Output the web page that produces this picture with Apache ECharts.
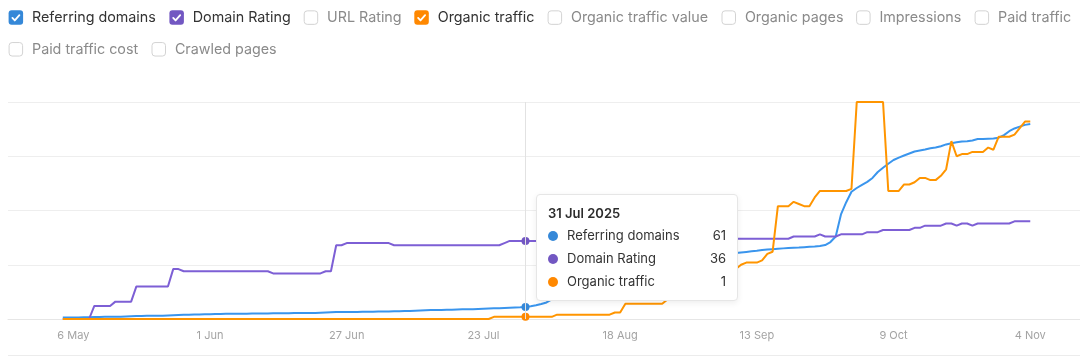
<!DOCTYPE html>
<html><head><meta charset="utf-8">
<script src="https://cdn.jsdelivr.net/npm/echarts@6/dist/echarts.min.js"></script>
<style>html,body{margin:0;padding:0;background:#fff;}#chart{width:1080px;height:357px;}</style>
</head><body><div id="chart"></div>
<script>
// ---- data ----
const MONTHS = ['Jan','Feb','Mar','Apr','May','Jun','Jul','Aug','Sep','Oct','Nov','Dec'];
const dayCount = 185; // 4 May 2025 .. 4 Nov 2025, daily
const categories = [];
const fullDates = [];
for (let i = 0; i < dayCount; i++) {
  const d = new Date(Date.UTC(2025, 4, 4 + i));
  const s = d.getUTCDate() + ' ' + MONTHS[d.getUTCMonth()];
  categories.push(s);
  fullDates.push(s + ' ' + d.getUTCFullYear());
}
const tickLabels = ['6 May','1 Jun','27 Jun','23 Jul','18 Aug','13 Sep','9 Oct','4 Nov'];
const hoverDate = '31 Jul';

const referringDomains = [
7,7,8,8,9,9,10,10,11,11,
12,12,13,14,15,15,16,16,17,17,
18,19,20,21,22,23,23,24,24,25,
25,26,26,27,27,27,28,28,28,28,
29,29,29,29,30,30,30,31,31,32,
33,34,35,35,36,36,36,37,37,37,
38,38,38,39,39,40,41,42,43,44,
45,45,46,47,47,48,49,50,50,51,
52,53,54,55,56,57,58,59,61,65,
70,76,84,100,125,155,185,210,232,250,
262,271,278,283,287,290,293,296,298,300,
302,304,306,308,310,312,314,315,317,318,
320,321,323,324,326,328,330,332,334,337,
340,343,346,350,352,354,356,358,360,361,
362,364,366,367,370,375,390,418,530,592,
645,664,680,695,715,745,767,787,806,818,
829,839,849,854,859,866,869,876,885,891,
896,900,901,905,912,913,914,915,919,932,
952,966,975,984,988
];
const domainRating = [
0,0,0,0,0,0,6,6,6,6,
8,8,8,8,15,15,15,15,15,15,
15,23,23,22,22,22,22,22,22,22,
22,22,22,22,22,22,22,22,22,22,
21,21,21,21,21,21,21,21,21,21,
22,22,34,34,35,35,35,35,35,35,
35,35,35,34,34,34,34,34,34,34,
34,34,34,34,34,34,34,34,34,34,
34,34,34,34,35,36,36,36,36,36,
36,36,36,36,36,36,36,36,36,36,
36,36,36,36,36,36,36,36,36,36,
37,37,37,37,37,37,37,37,37,37,
37,37,37,37,37,37,37,37,37,37,
37,37,37,37,37,37,37,37,37,38,
38,38,38,38,39,38,38,38,39,39,
39,39,39,40,40,40,41,41,41,41,
41,41,42,42,43,43,43,43,44,44,
43,44,44,43,44,44,44,44,44,44,
44,45,45,45,45
];
const organicTraffic = [
0,0,0,0,0,0,0,0,0,0,
0,0,0,0,0,0,0,0,0,0,
0,0,0,0,0,0,0,0,0,0,
0,0,0,0,0,0,0,0,0,0,
0,0,0,0,0,0,0,0,0,0,
0,0,0,0,0,0,0,0,0,0,
0,0,0,0,0,0,0,0,0,0,
0,0,0,0,0,0,0,0,0,0,
0,0,1,1,1,1,1,1,1,1,
1,1,1,1,2,2,2,2,2,2,
2,2,2,2,2,3,3,7,7,7,
7,7,7,7,7,9,10,11,12,13,
14,15,17,18,19,20,21,22,23,25,
26,26,26,27,30,31,52,52,52,54,
53,52,52,56,59,59,59,59,59,59,
60,100,100,100,100,100,100,59,59,59,
62,62,63,65,65,64,64,66,69,82,
75,76,76,77,77,77,79,78,84,84,
84,85,88,91,91
];

const legendRows = [
  [ {name:'Referring domains', checked:true, color:'#3588d8'},
    {name:'Domain Rating', checked:true, color:'#7257c2'},
    {name:'URL Rating', checked:false},
    {name:'Organic traffic', checked:true, color:'#ff8800'},
    {name:'Organic traffic value', checked:false},
    {name:'Organic pages', checked:false},
    {name:'Impressions', checked:false},
    {name:'Paid traffic', checked:false} ],
  [ {name:'Paid traffic cost', checked:false},
    {name:'Crawled pages', checked:false} ]
];
// checkbox left edges of each legend row (layout)
const legendBoxX = [
  [8.6, 169.4, 303.7, 414.3, 547.6, 721.5, 856.1, 974.6],
  [8.6, 151.5]
];
const seriesDefs = [
  {name:'Referring domains', data: referringDomains, yAxisIndex:1, color:'#3588d8'},
  {name:'Domain Rating', data: domainRating, yAxisIndex:0, color:'#7257c2'},
  {name:'Organic traffic', data: organicTraffic, yAxisIndex:2, color:'#ff8800'}
];

// ---- legend graphics ----
const FONT = 'Inter, "Noto Sans", sans-serif';
const BOX = 14.5;
const graphics = [];
const rowCenters = [17.6, 49.3];
legendRows.forEach((row, r) => {
  const cy = rowCenters[r];
  const by = cy - BOX / 2;
  row.forEach((item, k) => {
    const x = legendBoxX[r][k];
    if (item.checked) {
      graphics.push({type:'rect', shape:{x:x, y:by, width:BOX, height:BOX, r:3}, style:{fill:item.color}});
      graphics.push({type:'polyline', shape:{points:[[x+3.8,by+7.5],[x+6.2,by+10.1],[x+10.8,by+4.8]]},
        style:{stroke:'#fff', lineWidth:1.8, lineCap:'round', lineJoin:'round', fill:null}});
    } else {
      graphics.push({type:'rect', shape:{x:x+0.5, y:by+0.5, width:BOX-1, height:BOX-1, r:3},
        style:{fill:'#fff', stroke:'#d3d3d3', lineWidth:1}});
    }
    graphics.push({type:'text', x:x + 23.4, y:cy, style:{text:item.name, font:'14.3px ' + FONT,
      fill: item.checked ? '#333333' : '#8a8a8a', verticalAlign:'middle', align:'left'}});
  });
});
graphics.push({type:'line', shape:{x1:8, y1:355.5, x2:1080, y2:355.5}, style:{stroke:'#ececec', lineWidth:1}});

const tickIdx = tickLabels.map(t => categories.indexOf(t));

const chart = echarts.init(document.getElementById('chart'), null, {renderer:'canvas'});
chart.setOption({
  animation: false,
  textStyle: {fontFamily: FONT},
  graphic: graphics,
  grid: {left: 8, right: 0, top: 102, bottom: 38},
  xAxis: {
    type: 'value', min: -10.42, max: 193.46,
    splitLine: {show: false},
    axisTick: {show: false},
    axisLine: {show: true, lineStyle: {color: '#e6e6e6'}},
    axisLabel: {customValues: tickIdx, formatter: v => categories[Math.round(v)],
      color: '#a3a3a3', fontSize: 11, fontFamily: FONT, margin: 11}
  },
  yAxis: [
    {type:'value', min:0, max:100, interval:25, axisLabel:{show:false}, axisLine:{show:false},
     axisTick:{show:false}, splitLine:{lineStyle:{color:'#eeeeee'}}},
    {type:'value', min:0, max:1100, show:false},
    {type:'value', min:0, max:100, show:false}
  ],
  tooltip: {
    trigger: 'axis', triggerOn: 'none', alwaysShowContent: true, transitionDuration: 0,
    backgroundColor: '#fff', borderColor: '#e6e6e6', borderWidth: 1,
    padding: [10, 11, 7, 11],
    extraCssText: 'box-shadow:0 2px 6px rgba(0,0,0,0.07);border-radius:4px;',
    axisPointer: {type:'line', animation:false, lineStyle:{color:'#e2e2e2', width:1, type:'solid'}},
    position: function (point) { return [point[0] + 10.5, 194]; },
    formatter: function (params) {
      const idx = Math.round(params[0].value[0]);
      let html = '<div style="width:178px;font-family:Inter,sans-serif;">' +
        '<div style="font-weight:600;font-size:13px;line-height:17px;color:#2c2c2c;margin-bottom:2px">' +
        fullDates[idx] + '</div>';
      params.forEach(p => {
        html += '<div style="display:flex;align-items:center;height:23px;font-size:13px;color:#333">' +
          '<span style="display:inline-block;width:10px;height:10px;border-radius:50%;background:' + p.color +
          ';margin-right:9px"></span><span style="flex:1">' + p.seriesName + '</span><span>' +
          p.value[1] + '</span></div>';
      });
      return html + '</div>';
    }
  },
  series: seriesDefs.map(s => ({
    name: s.name, type: 'line', yAxisIndex: s.yAxisIndex,
    data: s.data.map((v, i) => [i, v]),
    showSymbol: false, symbol: 'circle', symbolSize: 8,
    lineStyle: {width: 2, color: s.color},
    itemStyle: {color: s.color, borderWidth: 0},
    emphasis: {scale: false, lineStyle: {width: 2}},
    color: s.color
  }))
});
chart.dispatchAction({type:'showTip', seriesIndex:0, dataIndex: categories.indexOf(hoverDate)});
</script>
</body></html>
